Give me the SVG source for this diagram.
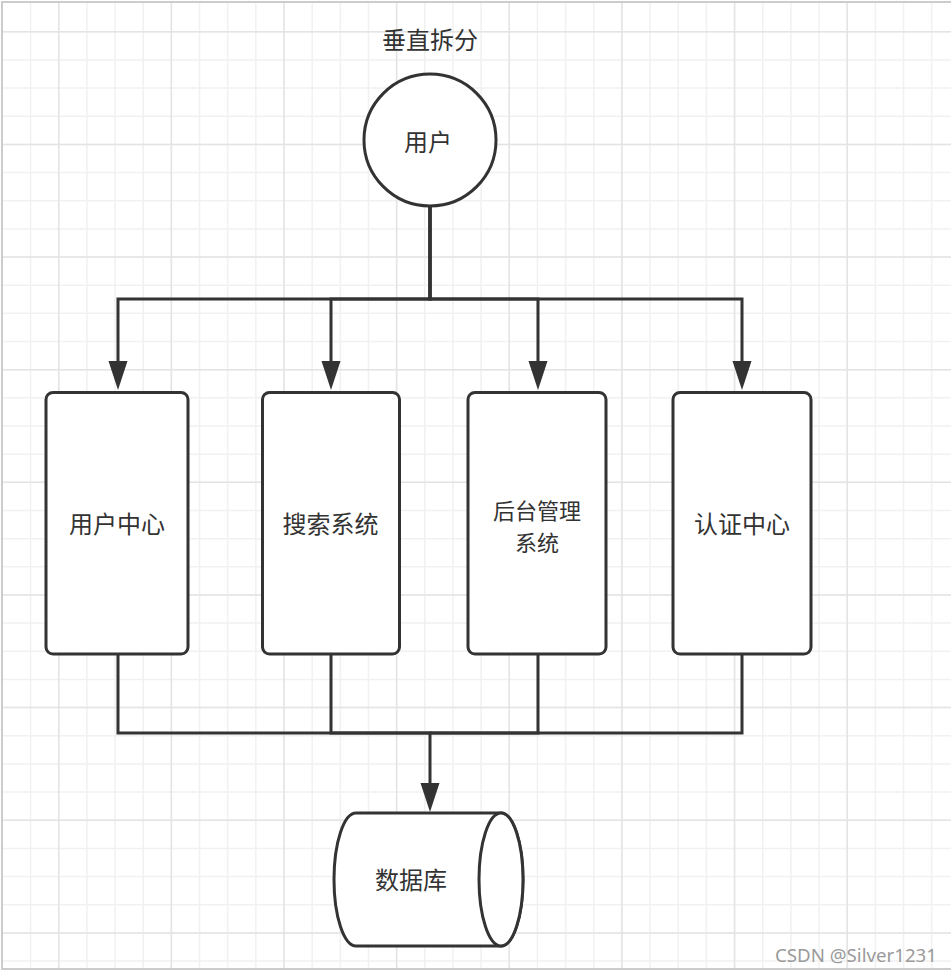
<svg xmlns="http://www.w3.org/2000/svg" width="951" height="973" viewBox="0 0 951 973">
<style>
.grid-minor{fill:none;stroke:#f1f1f1;stroke-width:1.5}
.grid-major{fill:none;stroke:#e4e4e4;stroke-width:1.5}
.border{fill:none;stroke:#cccccc;stroke-width:2}
.shape{fill:#ffffff;stroke:#333333;stroke-width:3}
.edge{fill:none;stroke:#333333;stroke-width:3}
.label{font-family:"Noto Sans CJK SC","Noto Sans",sans-serif;font-size:24px;fill:#333333;text-anchor:middle}
.label-2l{font-size:22px}
.wm{font-family:"Noto Sans","Noto Sans CJK SC",sans-serif;font-size:18px;fill:#9a9a9a;text-anchor:end}
</style>
<defs>
<marker id="arrow" viewBox="0 0 29 20" refX="19" refY="10" markerWidth="29" markerHeight="20" markerUnits="userSpaceOnUse" orient="auto">
<path d="M0,0.5 L29,10 L0,19.5 Z" fill="#333333"/>
</marker>
</defs>
<rect x="0" y="0" width="951" height="973" fill="#ffffff"/>
<g id="grid">
<path class="grid-minor" d="M30.56 2V969M58.72 2V969M86.88 2V969M115.04 2V969M143.2 2V969M171.36 2V969M199.52 2V969M227.68 2V969M255.84 2V969M284 2V969M312.16 2V969M340.32 2V969M368.48 2V969M396.64 2V969M424.8 2V969M452.96 2V969M481.12 2V969M509.28 2V969M537.44 2V969M565.6 2V969M593.76 2V969M621.92 2V969M650.08 2V969M678.24 2V969M706.4 2V969M734.56 2V969M762.72 2V969M790.88 2V969M819.04 2V969M847.2 2V969M875.36 2V969M903.52 2V969M931.68 2V969"/>
<path class="grid-minor" d="M2 31.76H951M2 59.92H951M2 88.08H951M2 116.24H951M2 144.4H951M2 172.56H951M2 200.72H951M2 228.88H951M2 257.04H951M2 285.2H951M2 313.36H951M2 341.52H951M2 369.68H951M2 397.84H951M2 426H951M2 454.16H951M2 482.32H951M2 510.48H951M2 538.64H951M2 566.8H951M2 594.96H951M2 623.12H951M2 651.28H951M2 679.44H951M2 707.6H951M2 735.76H951M2 763.92H951M2 792.08H951M2 820.24H951M2 848.4H951M2 876.56H951M2 904.72H951M2 932.88H951M2 961.04H951"/>
<path class="grid-major" d="M58.72 2V969M171.36 2V969M284 2V969M396.64 2V969M509.28 2V969M621.92 2V969M734.56 2V969M847.2 2V969"/>
<path class="grid-major" d="M2 31.76H951M2 144.4H951M2 257.04H951M2 369.68H951M2 482.32H951M2 594.96H951M2 707.6H951M2 820.24H951M2 932.88H951"/>
<path class="border" d="M951 2H2V969H951"/>
</g>
<g id="title">
<text class="label" x="430" y="48.5">垂直拆分</text>
</g>
<g id="connectors">
<path class="edge" d="M430,206 V299 H118 V380" marker-end="url(#arrow)"/>
<path class="edge" d="M430,206 V299 H331 V380" marker-end="url(#arrow)"/>
<path class="edge" d="M430,206 V299 H538 V380" marker-end="url(#arrow)"/>
<path class="edge" d="M430,206 V299 H742 V380" marker-end="url(#arrow)"/>
<path class="edge" d="M118,654 V733 H430 V802" marker-end="url(#arrow)"/>
<path class="edge" d="M331,654 V733 H430"/>
<path class="edge" d="M538,654 V733 H430"/>
<path class="edge" d="M742,654 V733 H430"/>
</g>
<g id="user">
<circle class="shape" cx="430" cy="140" r="66"/>
<text class="label" x="428" y="150.5">用户</text>
</g>
<g id="user-center">
<rect class="shape" x="46" y="392.5" width="142" height="261.5" rx="7"/>
<text class="label" x="117" y="533">用户中心</text>
</g>
<g id="search">
<rect class="shape" x="262.5" y="392.5" width="137" height="261.5" rx="7"/>
<text class="label" x="330.5" y="533">搜索系统</text>
</g>
<g id="admin">
<rect class="shape" x="468" y="392.5" width="138" height="261.5" rx="7"/>
<text class="label label-2l" x="537" y="519">后台管理</text>
<text class="label label-2l" x="537" y="551">系统</text>
</g>
<g id="auth">
<rect class="shape" x="673" y="392.5" width="138" height="261.5" rx="7"/>
<text class="label" x="742" y="533">认证中心</text>
</g>
<g id="database">
<path class="shape" d="M356,813 H501 A22,66.5 0 0 1 501,946 H356 A22,66.5 0 0 1 356,813 Z"/>
<ellipse class="shape" cx="501" cy="879.5" rx="22" ry="66.5" fill="none"/>
<text class="label" x="411" y="888.5">数据库</text>
</g>
<g id="watermark">
<text class="wm" x="937" y="962" textLength="162" lengthAdjust="spacingAndGlyphs">CSDN @Silver1231</text>
</g>
</svg>
